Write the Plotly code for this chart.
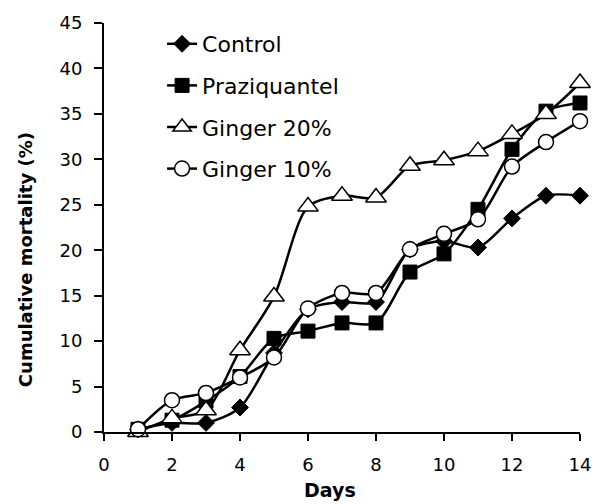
import plotly.graph_objects as go

days = list(range(1, 15))
control = [0.3, 1.0, 1.0, 2.7, 8.7, 13.5, 14.3, 14.3, 20.1, 21.0, 20.3, 23.5, 26.0, 26.0]
praziquantel = [0.3, 1.3, 3.4, 6.1, 10.3, 11.1, 12.0, 12.0, 17.6, 19.6, 24.5, 31.1, 35.3, 36.2]
ginger20 = [0.0, 1.5, 2.4, 9.0, 14.9, 24.8, 26.0, 25.8, 29.3, 29.9, 30.9, 32.8, 35.0, 38.4]
ginger10 = [0.3, 3.5, 4.3, 6.0, 8.2, 13.6, 15.3, 15.3, 20.1, 21.8, 23.4, 29.2, 31.9, 34.2]

x_ticks = [0, 2, 4, 6, 8, 10, 12, 14]
y_ticks = [0, 5, 10, 15, 20, 25, 30, 35, 40, 45]

series = [
    ("Control", control, dict(symbol="diamond", size=13, color="black", line=dict(color="black", width=1))),
    ("Praziquantel", praziquantel, dict(symbol="square", size=14, color="black", line=dict(color="black", width=1))),
    ("Ginger 20%", ginger20, dict(symbol="triangle-up", size=18, color="white", line=dict(color="black", width=1.5))),
    ("Ginger 10%", ginger10, dict(symbol="circle", size=15, color="white", line=dict(color="black", width=1.5))),
]

fig = go.Figure()
for i, (name, vals, mk) in enumerate(series):
    fig.add_trace(go.Scatter(
        x=days, y=vals, name=name, mode="lines+markers",
        line=dict(color="black", width=2.5, shape="spline", smoothing=0.8),
        marker=mk, legendgroup=f"g{i}", cliponaxis=False,
    ))

fig.update_layout(
    width=603, height=504,
    margin=dict(l=104, r=15, t=21, b=72),
    paper_bgcolor="white", plot_bgcolor="white",
    font=dict(family="DejaVu Sans", color="black"),
    showlegend=True,
    legend=dict(x=0.122, y=1.0, xanchor="left", yanchor="top",
                font=dict(size=22, family="DejaVu Sans"),
                bgcolor="rgba(0,0,0,0)", tracegroupgap=10,
                itemsizing="trace"),
    xaxis=dict(range=[0, 14], tickvals=x_ticks, showgrid=False, zeroline=False,
               showline=True, linecolor="black", linewidth=2,
               ticks="outside", ticklen=7, tickwidth=2, tickcolor="black",
               tickfont=dict(size=18), ticklabelstandoff=8),
    yaxis=dict(range=[0, 45], tickvals=y_ticks, showgrid=False, zeroline=False,
               showline=True, linecolor="black", linewidth=2,
               ticks="outside", ticklen=8, tickwidth=2, tickcolor="black",
               tickfont=dict(size=18), ticklabelstandoff=8),
    annotations=[
        dict(text="<b>Days</b>", xref="paper", yref="paper",
             x=(334 - 104) / 484, y=-(490 - 432) / 411, xanchor="center", yanchor="middle",
             showarrow=False, font=dict(size=19)),
        dict(text="<b>Cumulative mortality (%)</b>", xref="paper", yref="paper",
             x=-(104 - 25) / 484, y=(432 - 259) / 411, xanchor="center", yanchor="middle",
             textangle=-90, showarrow=False, font=dict(size=18)),
    ],
)

fig.write_html("out.html", config={"displayModeBar": False},
               post_script="document.body.style.margin='0';document.body.style.overflow='hidden';")
